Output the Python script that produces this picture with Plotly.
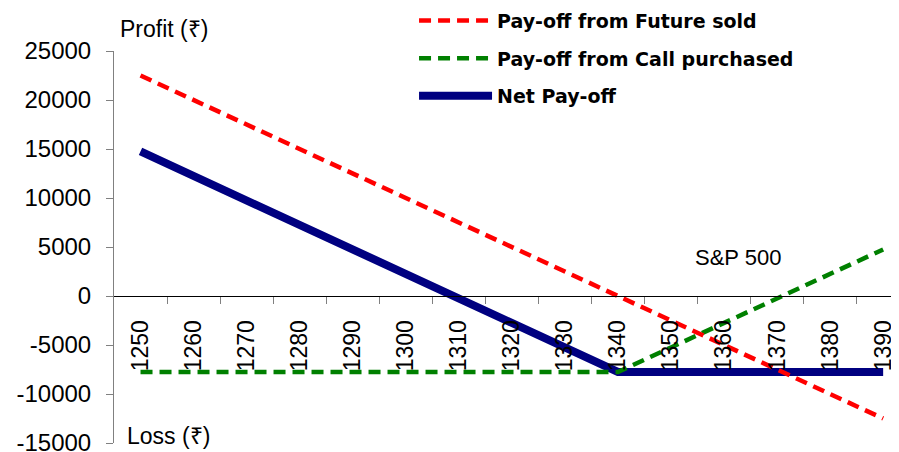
import plotly.graph_objects as go

index_levels = [1250, 1260, 1270, 1280, 1290, 1300, 1310, 1320, 1330, 1340,
                1350, 1360, 1370, 1380, 1390]
future_sold = [22500, 20000, 17500, 15000, 12500, 10000, 7500, 5000, 2500, 0,
               -2500, -5000, -7500, -10000, -12500]
call_purchased = [-7750, -7750, -7750, -7750, -7750, -7750, -7750, -7750, -7750, -7750,
                  -5250, -2750, -250, 2250, 4750]
net_payoff = [14750, 12250, 9750, 7250, 4750, 2250, -250, -2750, -5250, -7750,
              -7750, -7750, -7750, -7750, -7750]
x_tick_labels = [str(v) for v in index_levels]
x_boundary_ticks = [v + 5 for v in index_levels[:-1]]
y_ticks = [-15000, -10000, -5000, 0, 5000, 10000, 15000, 20000, 25000]
y_tick_labels = [str(v) for v in y_ticks]

fig = go.Figure()
fig.add_trace(go.Scatter(x=index_levels, y=net_payoff, mode="lines", name="Net Pay-off",
                         legendgroup="c", legendrank=3,
                         line=dict(color="#000080", width=8)))
fig.add_trace(go.Scatter(x=index_levels, y=call_purchased, mode="lines",
                         name="Pay-off from Call purchased", legendgroup="b", legendrank=2,
                         line=dict(color="#008000", width=4.5, dash="12px,7px")))
fig.add_trace(go.Scatter(x=index_levels, y=future_sold, mode="lines",
                         name="Pay-off from Future sold", legendgroup="a", legendrank=1,
                         line=dict(color="#FF0000", width=4.5, dash="12px,7px")))

fig.update_layout(
    width=891, height=444,
    margin=dict(l=106, r=1, t=43, b=9, autoexpand=False),
    paper_bgcolor="white", plot_bgcolor="white",
    font=dict(family="Liberation Sans, Arial, sans-serif", color="black"),
    legend=dict(x=0.3827, y=1.126, xanchor="left", yanchor="top",
                traceorder="grouped", tracegroupgap=10,
                font=dict(family="DejaVu Sans", size=19, color="black", weight="bold"),
                bgcolor="rgba(0,0,0,0)", itemwidth=73),
    xaxis=dict(range=[1245, 1392.8], anchor="free", position=0.375, automargin=False,
               tickmode="array", tickvals=index_levels, ticktext=x_tick_labels,
               tickangle=-90, ticks="", ticklabelstandoff=14,
               tickfont=dict(size=23),
               minor=dict(tickmode="array", tickvals=x_boundary_ticks, ticks="outside",
                          ticklen=7, tickcolor="#808080", showgrid=False),
               showline=True, linecolor="black", linewidth=1,
               showgrid=False, zeroline=False, layer="above traces"),
    yaxis=dict(range=[-15000, 25000], tickmode="array", tickvals=y_ticks,
               ticktext=y_tick_labels, automargin=False, ticklabeloverflow="allow",
               ticks="outside", ticklen=7, tickcolor="#808080",
               showline=True, linecolor="#808080", linewidth=1,
               showgrid=False, zeroline=False, tickfont=dict(size=24),
               ticklabelstandoff=10),
    annotations=[
        dict(text="Profit (₹)", xref="paper", yref="paper", x=0.0638, y=1.056,
             xanchor="center", yanchor="middle", showarrow=False, font=dict(size=23)),
        dict(text="Loss (₹)", xref="paper", yref="paper", x=0.070, y=0.018,
             xanchor="center", yanchor="middle", showarrow=False, font=dict(size=23)),
        dict(text="S&P 500", xref="paper", yref="paper", x=0.796, y=0.472,
             xanchor="center", yanchor="middle", showarrow=False, font=dict(size=22)),
    ],
)

fig.write_html("out.html")
